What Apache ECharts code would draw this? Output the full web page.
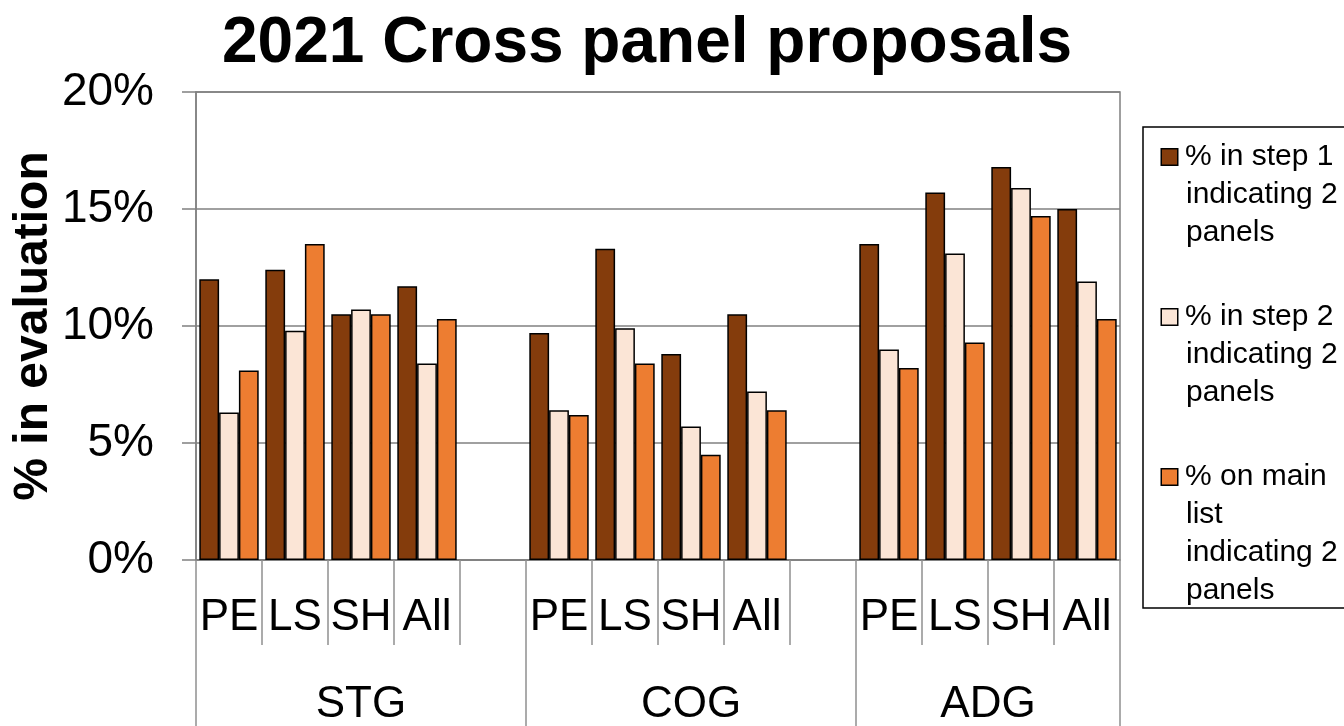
<!DOCTYPE html>
<html>
<head>
<meta charset="utf-8">
<script src="https://cdn.jsdelivr.net/npm/echarts@6/dist/echarts.min.js"></script>
<style>
  html, body { margin: 0; padding: 0; background: #fff; }
  #chart { width: 1344px; height: 726px; }
</style>
</head>
<body>
<div id="chart"></div>
<script>
// categories: 3 groups, blank slot between groups
var subCategories = ['PE', 'LS', 'SH', 'All', '', 'PE', 'LS', 'SH', 'All', '', 'PE', 'LS', 'SH', 'All'];
var groupNames = ['STG', 'COG', 'ADG'];
var groupLabelPos = [2.5, 7.5, 12];
var groupTickPos = [0, 5, 10, 14];
var yTicks = [0, 5, 10, 15, 20];

// values (%)
var step1Values = [12.0, 12.4, 10.5, 11.7, null, 9.7, 13.3, 8.8, 10.5, null, 13.5, 15.7, 16.8, 15.0];
var step2Values = [6.3, 9.8, 10.7, 8.4, null, 6.4, 9.9, 5.7, 7.2, null, 9.0, 13.1, 15.9, 11.9];
var mainListValues = [8.1, 13.5, 10.5, 10.3, null, 6.2, 8.4, 4.5, 6.4, null, 8.2, 9.3, 14.7, 10.3];

var legendLines = [
    ['% in step 1', 'indicating 2', 'panels'],
    ['% in step 2', 'indicating 2', 'panels'],
    ['% on main', 'list', 'indicating 2', 'panels']
];
var seriesColors = ['#843C0C', '#FBE5D6', '#ED7D31'];
var seriesNames = legendLines.map(function (l) { return l.join(' '); });

var chart = echarts.init(document.getElementById('chart'));

//图例用富文本画方块
var rich = {
    t: { fontSize: 30, lineHeight: 38, color: '#000', fontFamily: 'Liberation Sans' },
    g: { width: 8 },
    ind: { width: 24 }
};
for (var i = 0; i < seriesColors.length; i++) {
    rich['sq' + i] = {
        width: 15, height: 15, backgroundColor: seriesColors[i],
        borderColor: '#000', borderWidth: 1.5
    };
}

function makeBar(idx, data) {
    return {
        name: seriesNames[idx],
        type: 'bar',
        data: data,
        barGap: '0%',
        barCategoryGap: '10%',
        itemStyle: { color: seriesColors[idx], borderColor: '#000', borderWidth: 1.5 }
    };
}

var option = {
    animation: false,
    textStyle: { fontFamily: 'Liberation Sans' },
    title: {
        text: '2021 Cross panel proposals',
        left: 222,
        top: 12,
        padding: 0,
        textStyle: { fontSize: 64, fontWeight: 'bold', color: '#000', fontFamily: 'Liberation Sans' }
    },
    legend: {
        orient: 'vertical',
        left: 1143,
        top: 127,
        padding: [15, 30, 2, 13],
        itemGap: 54,
        itemWidth: 0,
        itemHeight: 0,
        itemStyle: { opacity: 0 },
        borderColor: '#000',
        borderWidth: 1.5,
        selectedMode: false,
        data: seriesNames,
        formatter: function (name) {
            var idx = seriesNames.indexOf(name);
            var lines = legendLines[idx];
            var s = '{sq' + idx + '|}{g|}{t|' + lines[0] + '}';
            for (var j = 1; j < lines.length; j++) {
                s += '\n{ind|}{t|' + lines[j] + '}';
            }
            return s;
        },
        textStyle: { rich: rich }
    },
    grid: {
        left: 196,
        right: 224,
        top: 92,
        bottom: 166,
        containLabel: false,
        outerBoundsMode: 'none',
        show: true,
        borderColor: '#808080',
        borderWidth: 1.5
    },
    xAxis: [{
        type: 'category',
        data: subCategories,
        axisLine: { lineStyle: { color: '#808080', width: 1.5 } },
        axisTick: { show: true, interval: 0, length: 85, lineStyle: { color: '#909090', width: 1.5 } },
        axisLabel: { interval: 0, fontSize: 44, color: '#000', margin: 36 }
    }, {
        type: 'value',
        position: 'bottom',
        min: 0,
        max: 14,
        axisLine: { show: false },
        splitLine: { show: false },
        axisTick: { show: true, customValues: groupTickPos, length: 170, lineStyle: { color: '#909090', width: 1.5 } },
        axisLabel: {
            customValues: groupLabelPos,
            fontSize: 44,
            color: '#000',
            margin: 123,
            formatter: function (v) {
                return groupNames[groupLabelPos.indexOf(v)];
            }
        }
    }],
    yAxis: {
        type: 'value',
        min: yTicks[0],
        max: yTicks[yTicks.length - 1],
        interval: 5,
        name: '% in evaluation',
        nameLocation: 'middle',
        nameRotate: 90,
        nameGap: 138,
        nameMoveOverlap: false,
        nameTextStyle: { fontSize: 48, fontWeight: 'bold', color: '#000' },
        axisLine: { show: true, lineStyle: { color: '#808080', width: 1.5 } },
        axisTick: { show: true, length: 14, lineStyle: { color: '#808080', width: 1.5 } },
        axisLabel: { fontSize: 46, color: '#000', margin: 42, formatter: '{value}%' },
        splitLine: { lineStyle: { color: '#808080', width: 1.5 } }
    },
    series: [
        makeBar(0, step1Values),
        makeBar(1, step2Values),
        makeBar(2, mainListValues)
    ]
};

chart.setOption(option);
</script>
</body>
</html>
